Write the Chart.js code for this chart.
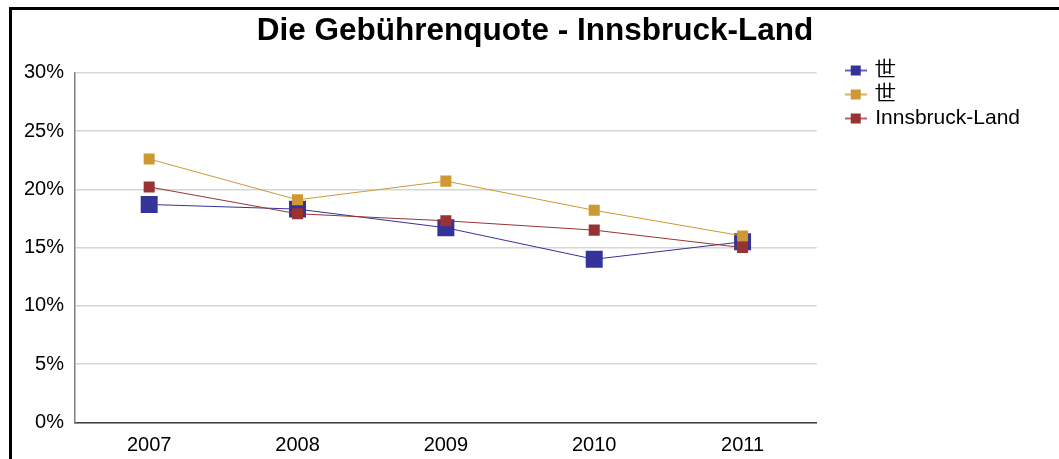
<!DOCTYPE html>
<html>
<head>
<meta charset="utf-8">
<script src="https://cdn.jsdelivr.net/npm/chart.js@4/dist/chart.umd.min.js"></script>
<style>
  html, body { margin: 0; padding: 0; background: #fff; width: 1059px; height: 459px; overflow: hidden; }
  #frame { position: absolute; left: 9px; top: 7px; width: 1100px; height: 500px;
           border-top: 3px solid #000; border-left: 3px solid #000; }
  #wrap { position: absolute; left: 0; top: 0; width: 1059px; height: 459px; }
</style>
</head>
<body>
<div id="frame"></div>
<div id="wrap"><canvas id="c" width="1059" height="459"></canvas></div>
<script>
const titleText = 'Die Gebührenquote - Innsbruck-Land';
const categories = ['2007', '2008', '2009', '2010', '2011'];
const seriesNames = ['世', '世', 'Innsbruck-Land'];
const seriesBlue = [18.7, 18.3, 16.7, 14.0, 15.5];
const seriesGold = [22.6, 19.1, 20.7, 18.2, 16.0];
const seriesRed = [20.2, 17.9, 17.3, 16.5, 15.0];
const yTicks = [0, 5, 10, 15, 20, 25, 30];

const colBlue = '#333399';
const colGold = '#CC9933';
const colRed = '#993333';

function legendIcon(color) {
  const c = document.createElement('canvas');
  c.width = 22; c.height = 12;
  const g = c.getContext('2d');
  g.strokeStyle = color; g.lineWidth = 1.5;
  g.beginPath(); g.moveTo(0, 6); g.lineTo(22, 6); g.stroke();
  g.fillStyle = color; g.fillRect(6, 1, 10, 10);
  return c;
}
const icons = [legendIcon(colBlue), legendIcon(colGold), legendIcon(colRed)];

Chart.defaults.color = '#000';
Chart.defaults.font.family = '"Liberation Sans", Arial, sans-serif';

// centre the title over the whole frame rather than the space left of the legend
const titleShift = {
  id: 'titleShift',
  afterLayout(chart) {
    const t = chart.titleBlock;
    if (t) { t.left += 14; t.right += 14; }
  }
};

new Chart(document.getElementById('c'), {
  type: 'line',
  plugins: [titleShift],
  data: {
    labels: categories,
    datasets: [
      { label: seriesNames[0], data: seriesBlue, borderColor: colBlue, backgroundColor: colBlue,
        borderWidth: 1, pointStyle: 'rect', pointRadius: 12, pointHoverRadius: 12, pointBorderWidth: 0, order: 3 },
      { label: seriesNames[1], data: seriesGold, borderColor: colGold, backgroundColor: colGold,
        borderWidth: 1, pointStyle: 'rect', pointRadius: 7.8, pointHoverRadius: 7.8, pointBorderWidth: 0, order: 2 },
      { label: seriesNames[2], data: seriesRed, borderColor: colRed, backgroundColor: colRed,
        borderWidth: 1, pointStyle: 'rect', pointRadius: 7.8, pointHoverRadius: 7.8, pointBorderWidth: 0, order: 1 }
    ]
  },
  options: {
    responsive: false,
    animation: false,
    events: [],
    layout: { padding: { left: 12, top: 0, right: 29, bottom: 0 } },
    plugins: {
      tooltip: { enabled: false },
      title: {
        display: true, text: titleText, color: '#000',
        font: { size: 31.5, weight: 'bold', lineHeight: 1.2 },
        padding: { top: 12.4, bottom: 22.5 }
      },
      legend: {
        display: true, position: 'right', align: 'start', maxWidth: 400,
        title: { display: true, text: '', font: { size: 10, lineHeight: 1.2 }, padding: { top: 45, bottom: 0 } },
        labels: {
          usePointStyle: true, pointStyleWidth: 18, padding: 3, color: '#000',
          font: { size: 21 },
          generateLabels: (chart) => chart.data.datasets.map((ds, i) => ({
            text: ds.label, pointStyle: icons[i], fillStyle: ds.backgroundColor,
            strokeStyle: ds.borderColor, lineWidth: 0, hidden: false, datasetIndex: i
          }))
        }
      }
    },
    scales: {
      x: {
        offset: true,
        grid: { display: false, drawTicks: false },
        border: { display: true, color: '#404040', width: 1.5 },
        ticks: { padding: 11, font: { size: 20 }, color: '#000' },
        afterFit: (s) => { s.height = 36.5; }
      },
      y: {
        min: 0, max: 30,
        afterBuildTicks: (s) => { s.ticks = yTicks.map(v => ({ value: v })); },
        grid: { color: '#d6d6d6', lineWidth: 1.5, drawTicks: false },
        border: { display: true, color: '#808080', width: 1.5 },
        ticks: { padding: 11, font: { size: 20 }, color: '#000', callback: (v) => v + '%' },
        afterFit: (s) => { s.width = 63; }
      },
      spacer: {
        type: 'linear', position: 'right', display: true, min: 0, max: 1,
        grid: { display: false, drawTicks: false },
        border: { display: false },
        ticks: { display: false },
        afterFit: (s) => { s.width = 27; }
      }
    }
  }
});
</script>
</body>
</html>
